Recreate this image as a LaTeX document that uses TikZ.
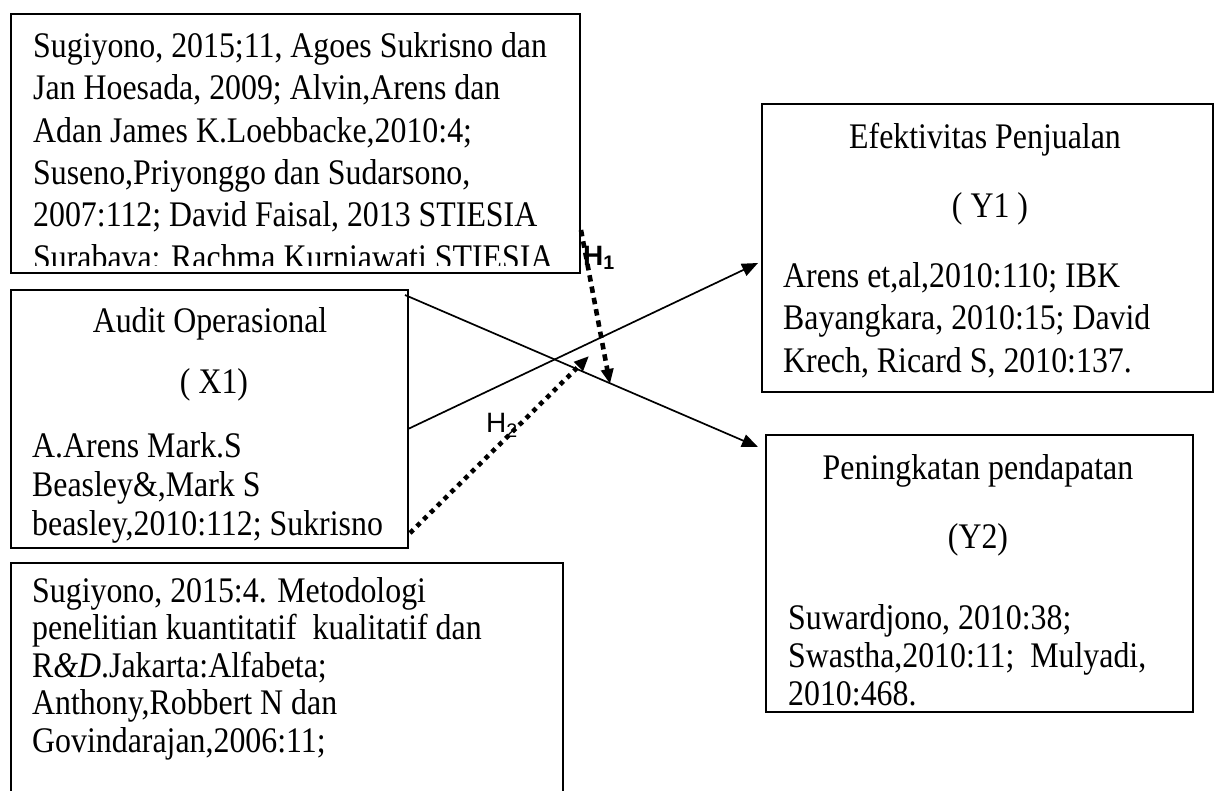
\documentclass[tikz,border=0pt]{standalone}
\usepackage{fontspec}
\setmainfont{Liberation Serif}[FakeStretch=0.885]
\newfontfamily\hsans{Liberation Sans}
\usetikzlibrary{arrows.meta}
\begin{document}
\begin{tikzpicture}[x=1pt,y=-1pt,
  frame/.style={draw, line width=1.4pt, inner sep=0pt, outer sep=0pt, anchor=north west},
  txt/.style={inner sep=0pt, anchor=north west, align=left},
  ttl/.style={inner sep=0pt, anchor=base, font=\fontsize{36}{40}\selectfont},
  hlab/.style={inner sep=0pt, anchor=base west, font=\hsans\fontsize{28}{28}\selectfont},
  arr/.style={line width=1.7pt, -{Triangle[length=16pt,width=13pt]}},
  dotarr/.style={line width=4.6pt, -{Triangle[length=15pt,width=12pt]}}]
\useasboundingbox (0,0) rectangle (1215,790);

% frames
\node[frame, minimum width=569pt, minimum height=259pt] (src1) at (11,14) {};
\node[frame, minimum width=397pt, minimum height=258pt] (audit) at (11,290) {};
\node[frame, minimum width=552pt, minimum height=240pt] (src2) at (11,563) {};
\node[frame, minimum width=451pt, minimum height=288pt] (y1) at (762,104) {};
\node[frame, minimum width=427pt, minimum height=277pt] (y2) at (766,435) {};

% top source box text (last line clipped)
\begin{scope}
\clip (11,14) rectangle (580,265);
\node[txt, font=\fontsize{36}{42.4}\selectfont] (src1t) at (33,32.2) {Sugiyono, 2015;11, Agoes Sukrisno dan\\Jan Hoesada, 2009; Alvin,Arens dan\\Adan James K.Loebbacke,2010:4;\\Suseno,Priyonggo dan Sudarsono,\\2007:112; David Faisal, 2013 STIESIA\\Surabava: Rachma Kurniawati STIESIA};
\end{scope}

% audit box
\node[ttl] (auditt) at (210,332) {Audit Operasional};
\node[ttl] (x1) at (214,393) {( X1)};
\node[txt, font=\fontsize{36}{39}\selectfont] (auditr) at (32,432) {A.Arens Mark.S\\Beasley\&,Mark S\\beasley,2010:112; Sukrisno};

% bottom source box
\node[txt, font=\fontsize{36}{37.5}\selectfont] (src2t) at (32,577) {Sugiyono, 2015:4. Metodologi\\penelitian kuantitatif\ \ kualitatif dan\\R\textit{\&D}.Jakarta:Alfabeta;\\Anthony,Robbert N dan\\Govindarajan,2006:11;};

% Y1 box
\node[ttl] (y1t) at (985,148) {Efektivitas Penjualan};
\node[ttl] (y1v) at (990,217) {( Y1 )};
\node[txt, font=\fontsize{36}{42.5}\selectfont] (y1r) at (783,262) {Arens et,al,2010:110; IBK\\Bayangkara, 2010:15; David\\Krech, Ricard S, 2010:137.};

% Y2 box
\node[ttl] (y2t) at (978,479) {Peningkatan pendapatan};
\node[ttl] (y2v) at (978,548) {(Y2)};
\node[txt, font=\fontsize{36}{38}\selectfont] (y2r) at (788,604) {Suwardjono, 2010:38;\\Swastha,2010:11;\ \ Mulyadi,\\2010:468.};

% hypothesis labels
\node[hlab] (h1) at (583,265) {\bfseries H\textsubscript{1}};
\node[hlab] (h2) at (486,432) {H\textsubscript{2}};

% connector end points
\coordinate (a1) at (405,295);
\coordinate (a2) at (408,429);
\coordinate (a3) at (410,533);
\coordinate (e1) at (758,447);
\coordinate (e2) at (758,263);
\coordinate (hs) at (581,230);
\coordinate (he) at (610,384);
\coordinate (h2e) at (589,356);

\draw[arr] (a1) -- (e1);
\draw[arr] (a2) -- (e2);
\draw[dotarr, dash pattern=on 6.5pt off 5pt] (hs) -- (he);
\draw[dotarr, dash pattern=on 4.6pt off 5pt] (a3) -- (h2e);
\end{tikzpicture}
\end{document}
